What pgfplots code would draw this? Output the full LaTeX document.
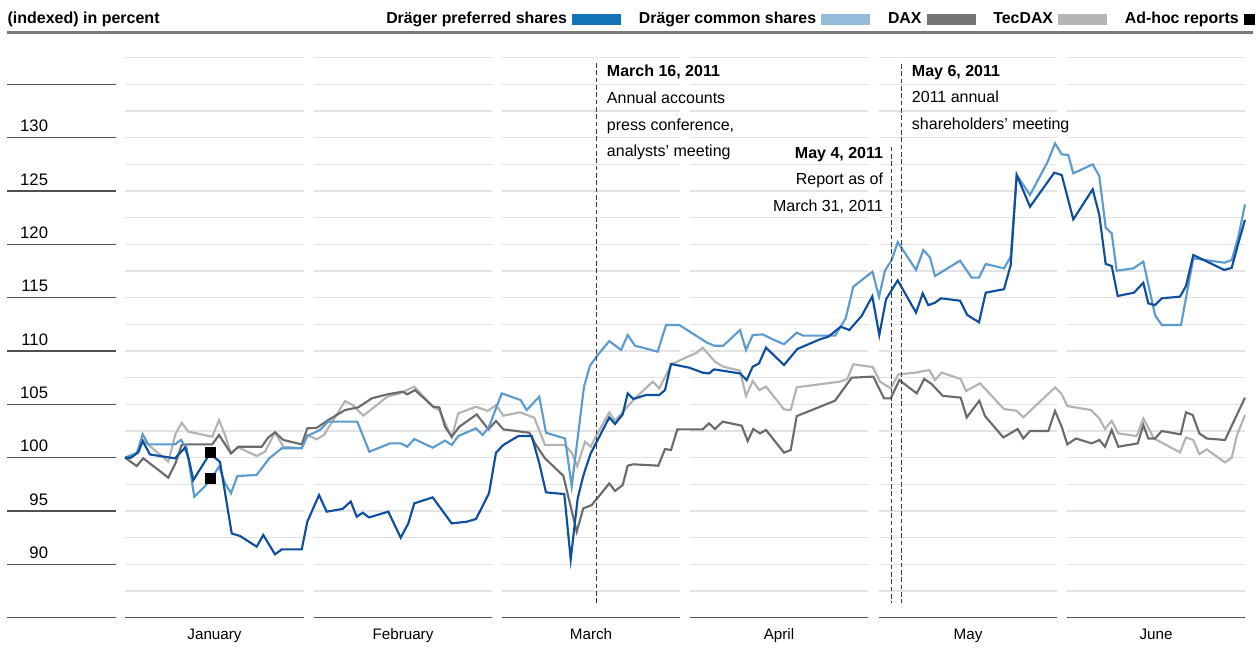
\documentclass[border=0pt]{standalone}
\usepackage{pgfplots}
\pgfplotsset{compat=1.18}
\usepackage{fontspec}
\setmainfont{Liberation Sans}
\definecolor{pref}{HTML}{0D4F9E}
\definecolor{comm}{HTML}{5B9BD0}
\definecolor{dax}{HTML}{6B6B6B}
\definecolor{tec}{HTML}{B3B3B3}
\definecolor{prefsw}{HTML}{1273B6}
\definecolor{commsw}{HTML}{95BBDA}
\definecolor{daxsw}{HTML}{747474}
\definecolor{tecsw}{HTML}{B5B5B5}
\definecolor{gridc}{HTML}{E3E3E3}
\definecolor{axisdark}{HTML}{505050}
\definecolor{headline}{HTML}{7A7A7A}
\definecolor{evt}{HTML}{3A3A3A}
\begin{document}
\begin{tikzpicture}
\begin{axis}[
  scale only axis, width=943.5pt, height=485.25pt,
  xmin=0, xmax=1258, ymin=82.253, ymax=142.909,
  hide axis, clip=false,
  legend style={
    at={(axis cs:1254.5,141.13)}, anchor=east,
    draw=none, fill=none, inner sep=0pt, outer sep=0pt,
    legend columns=-1,
    font=\fontsize{11.9}{14}\selectfont\bfseries,
    nodes={inner sep=0pt},
    /tikz/every odd column/.append style={column sep=4pt},
    /tikz/every even column/.append style={column sep=13.5pt},
  },
  legend plot pos=right,
]
\path (rel axis cs:0,0) rectangle (rel axis cs:1,1);
% legend
\addlegendimage{legend image code/.code={\fill[prefsw] (0pt,-3.75pt) rectangle (36pt,3.75pt);}}
\addlegendentry{Dräger preferred shares}
\addlegendimage{legend image code/.code={\fill[commsw] (0pt,-3.75pt) rectangle (36pt,3.75pt);}}
\addlegendentry{Dräger common shares}
\addlegendimage{legend image code/.code={\fill[daxsw] (0pt,-3.75pt) rectangle (36pt,3.75pt);}}
\addlegendentry{DAX}
\addlegendimage{legend image code/.code={\fill[tecsw] (0pt,-3.75pt) rectangle (36pt,3.75pt);}}
\addlegendentry{TecDAX}
\addlegendimage{legend image code/.code={\fill[black] (0pt,-3.75pt) rectangle (7.5pt,3.75pt);}}
\addlegendentry{Ad-hoc reports}
% header
\node[anchor=base west, inner sep=0pt, font=\fontsize{12}{14}\selectfont\bfseries] at (axis cs:7.3,140.66) {(indexed) in percent};
\draw[headline, line width=2.25pt] (axis cs:7,139.82) -- (axis cs:1253,139.82);
% gridlines
\pgfplotsinvokeforeach{87.5,90,92.5,95,97.5,100,102.5,105,107.5,110,112.5,115,117.5,120,122.5,125,127.5,130,132.5,135,137.5}{
  \draw[gridc, line width=1.1pt] (axis cs:125,#1) -- (axis cs:304,#1) (axis cs:314,#1) -- (axis cs:492,#1) (axis cs:502,#1) -- (axis cs:680,#1) (axis cs:690,#1) -- (axis cs:868,#1) (axis cs:879,#1) -- (axis cs:1057,#1) (axis cs:1067,#1) -- (axis cs:1245,#1);
}
\draw[axisdark, line width=1.1pt] (axis cs:125,85) -- (axis cs:304,85) (axis cs:314,85) -- (axis cs:492,85) (axis cs:502,85) -- (axis cs:680,85) (axis cs:690,85) -- (axis cs:868,85) (axis cs:879,85) -- (axis cs:1057,85) (axis cs:1067,85) -- (axis cs:1245,85);
% left scale
\pgfplotsinvokeforeach{85,90,95,100,105,110,115,120,125,130,135}{
  \draw[axisdark, line width=1.1pt] (axis cs:7,#1) -- (axis cs:116,#1);
}
\pgfplotsinvokeforeach{90,95,100,105,110,115,120,125,130}{
  \node[anchor=base east, inner sep=0pt, yshift=4.5pt, font=\fontsize{12.5}{14}\selectfont] at (axis cs:48.3,#1) {#1};
}
% month labels
\node[anchor=base, inner sep=0pt, font=\fontsize{11.4}{13}\selectfont] at (axis cs:214.5,82.91) {January};
\node[anchor=base, inner sep=0pt, font=\fontsize{11.4}{13}\selectfont] at (axis cs:403,82.91) {February};
\node[anchor=base, inner sep=0pt, font=\fontsize{11.4}{13}\selectfont] at (axis cs:591,82.91) {March};
\node[anchor=base, inner sep=0pt, font=\fontsize{11.4}{13}\selectfont] at (axis cs:779,82.91) {April};
\node[anchor=base, inner sep=0pt, font=\fontsize{11.4}{13}\selectfont] at (axis cs:968,82.91) {May};
\node[anchor=base, inner sep=0pt, font=\fontsize{11.4}{13}\selectfont] at (axis cs:1156,82.91) {June};
% TecDAX
\addplot[tec, line width=1.6pt, forget plot] coordinates {
(125,100) (136.7,100.47) (142.7,101.66) (168.3,99.63) (175.7,102.28) (181.7,103.28) (188.3,102.44) (212.3,101.97) (219,103.53) (225,102.13) (231,100.4) (238.3,100.97) (256.7,100.16) (265,100.56) (275,102.38) (283.3,101.03) (301.7,100.88) (307.3,102.13) (316.7,101.72) (324,102.13) (333,103.5) (345,105.3) (352.7,104.94) (363.3,103.94) (387.3,105.72) (400,106.03) (414.3,106.66) (433.3,104.72) (439.3,104.47) (451.7,101.9) (458.3,104.16) (476,104.78) (487.7,104.38) (496,104.94) (503.3,103.94) (520,104.25) (534.3,103.75) (545,101.19) (565,101.19) (571.7,100.47) (577.3,99.2) (585,101.5) (590.7,101.03) (596.7,102.13) (609.3,104.25) (615,103.47) (634,105.47) (652.7,107.13) (659.3,106.5) (671.7,108.78) (696.7,109.84) (702.7,110.31) (715,109.0) (723.3,108.53) (740,108.16) (746,105.78) (752.7,107.19) (759.3,106.34) (766,106.66) (784,104.53) (790.7,104.47) (796.7,106.6) (840,107.13) (847.3,107.38) (853.3,108.75) (872.7,108.5) (880,107.13) (890.7,106.5) (898.3,107.8) (915,107.97) (929.3,108.22) (935,107.28) (941.7,107.97) (960.7,107.38) (966,106.25) (980,106.97) (1004,104.56) (1016.7,104.4) (1023.3,103.78) (1055,106.59) (1061.7,105.97) (1067.3,104.84) (1091,104.47) (1099.3,103.69) (1105,102.69) (1111.7,103.47) (1118.3,102.28) (1136.7,102.03) (1143.3,103.69) (1154,101.8) (1180,100.5) (1186,101.9) (1193.3,101.66) (1199.3,100.34) (1206.7,100.78) (1225,99.56) (1231.7,100.0) (1236.7,102.03) (1245,104.0)
};
% DAX
\addplot[dax, line width=1.6pt, forget plot] coordinates {
(125,100) (136.7,99.22) (143.3,99.94) (168.3,98.13) (175.7,99.53) (181.7,101.19) (188.3,101.25) (212.3,101.25) (219,102.13) (231,100.4) (238.3,101.03) (261.7,101.03) (268.3,101.9) (275,102.38) (283.3,101.66) (301.7,101.25) (307.3,102.75) (316.7,102.8) (328.3,103.53) (345,104.47) (358.3,104.72) (371.7,105.56) (387.3,105.94) (402.7,106.19) (407.3,105.94) (415,106.34) (433.3,104.78) (439.3,104.72) (445,102.9) (451.7,101.97) (459.3,102.9) (476.7,104.06) (488.3,102.66) (496,103.44) (503.3,102.66) (529.3,102.34) (535,101.34) (545,99.94) (563.3,98.31) (576.7,93.06) (583.3,95.25) (591.7,95.56) (596.7,96.13) (609.3,97.59) (615,96.88) (622.7,97.44) (627.7,99.25) (633.3,99.38) (658.3,99.25) (665,100.81) (671,100.72) (677.3,102.66) (702.7,102.66) (709,103.22) (715,102.69) (722.7,103.38) (741.7,103.0) (747.7,101.56) (753.3,102.69) (760,102.28) (766,102.6) (784,100.47) (790.7,100.72) (796.7,103.9) (835,105.34) (851.7,107.5) (873.3,107.6) (884,105.56) (890.7,105.56) (899.3,107.28) (916.7,106.03) (924.3,107.38) (931.7,106.9) (942.7,105.8) (960.7,105.63) (966.7,103.78) (979.3,105.34) (985,103.9) (1003.3,101.9) (1017.7,102.69) (1023.3,101.8) (1030,102.5) (1048.3,102.5) (1055,104.38) (1061.7,102.9) (1067.3,101.25) (1076,101.8) (1091.7,101.34) (1099.3,101.66) (1105,101.03) (1111.7,102.6) (1118.3,101.03) (1137.7,101.34) (1143.3,103.06) (1148.3,101.8) (1155,101.8) (1161.7,102.5) (1180.7,102.19) (1186,104.25) (1192.7,104.0) (1199.3,102.28) (1206.7,101.8) (1225,101.66) (1245,105.63)
};
% Common shares
\addplot[comm, line width=1.6pt, forget plot] coordinates {
(125,100) (136.7,100.4) (142.7,102.19) (148.3,101.25) (175,101.25) (181,101.66) (186.7,100.9) (194.3,96.34) (209.3,97.75) (219,99.16) (225,97.6) (231,96.66) (237.3,98.28) (256.7,98.38) (269.3,99.94) (281.7,100.88) (301.7,100.88) (307.3,102.03) (320,102.6) (328.3,103.38) (357.3,103.38) (369.3,100.56) (390,101.34) (400.7,101.34) (407.3,101.03) (414.3,101.75) (432.7,100.94) (445,101.6) (451.7,101.19) (458.3,102.03) (476,102.75) (482.7,102.13) (489,102.9) (501.7,106.03) (520.7,105.4) (526.7,104.47) (539.3,105.72) (546,102.34) (565,101.8) (571.7,97.31) (584,106.66) (590,108.63) (596.7,109.5) (609.3,110.94) (621,110.1) (627.7,111.5) (635,110.5) (657.7,109.94) (666,112.44) (679.3,112.44) (696.7,111.4) (706.7,110.8) (714.3,110.5) (723.3,110.5) (740,111.97) (746,110.1) (752.7,111.5) (762.7,111.56) (769.3,111.25) (784,110.63) (796.7,111.72) (803.3,111.44) (835,111.44) (845.7,113.06) (853.3,116.03) (872.5,117.44) (879,115.07) (885,117.55) (891.7,118.53) (897.7,120.22) (916,117.6) (923.3,119.47) (930,118.78) (935,117.03) (960,118.47) (971.7,116.88) (979,116.88) (985.7,118.16) (1004,117.75) (1010.7,118.84) (1016.7,126.5) (1030,124.63) (1047.7,127.75) (1055,129.47) (1061.7,128.44) (1068.3,128.38) (1073.3,126.66) (1092.7,127.5) (1099.3,126.4) (1105.7,121.56) (1111.7,121.03) (1116.7,117.53) (1133.3,117.75) (1143.3,118.38) (1155,113.38) (1161.7,112.44) (1181,112.44) (1193.3,118.69) (1224.3,118.28) (1231.7,118.53) (1238.3,120.7) (1245,123.75)
};
% Preferred shares
\addplot[pref, line width=1.6pt, forget plot] coordinates {
(125,100) (131,100) (138.3,100.5) (142.7,101.56) (150,100.3) (175,99.94) (185,100.94) (189,99.8) (193.3,97.9) (210,100.4) (220,99.6) (231.7,92.9) (240,92.66) (256.7,91.66) (263.3,92.75) (275,90.94) (281.7,91.4) (301.7,91.4) (307.3,94.0) (319,96.5) (326.7,94.94) (342.7,95.2) (350.7,95.9) (356.7,94.47) (362.7,94.84) (369,94.4) (388.3,94.94) (400.7,92.5) (408.3,93.84) (414.3,95.72) (432.7,96.28) (451.7,93.84) (466.7,94.0) (476,94.25) (489,96.66) (496,100.47) (503.3,101.19) (518.3,102.03) (531.7,102.03) (539.3,99.47) (546,96.75) (564.3,96.59) (570.7,90.47) (577.7,96.19) (583.3,98.31) (590.7,100.4) (609.3,103.78) (615,103.16) (622.7,104.06) (627.7,106.03) (633.3,105.5) (646,105.88) (659.3,105.88) (665,106.34) (671,108.78) (689.3,108.44) (702.7,107.97) (709,107.9) (714,108.28) (740,107.9) (746.7,107.28) (752.7,108.53) (759,108.84) (766,110.31) (784,108.69) (797.3,110.19) (820,111.1) (828.3,111.34) (840.7,112.28) (849.3,111.97) (861.7,113.3) (872.3,115.13) (879.3,111.5) (886,114.84) (897.7,116.63) (916,113.6) (922.7,115.4) (928.3,114.3) (935,114.53) (941,114.94) (960,114.72) (967.3,113.38) (979,112.69) (985.7,115.47) (1004,115.8) (1010.7,118.06) (1016.7,126.5) (1030,123.53) (1054.3,126.72) (1061.7,126.5) (1073.3,122.34) (1092.7,125.16) (1099.3,122.75) (1105.7,118.16) (1111.7,117.97) (1117.7,115.16) (1134,115.47) (1143.3,116.4) (1148.3,114.47) (1155,114.3) (1161.7,114.94) (1180,115.1) (1186,116.1) (1193.3,119.0) (1224.3,117.6) (1231.7,117.8) (1238.3,120.1) (1245,122.3)
};
% Ad-hoc reports
\addplot[only marks, mark=square*, mark size=3.75pt, black, forget plot] coordinates {(210.7,100.53) (210.7,98.1)};
% event lines
\draw[evt, line width=1pt, dash pattern=on 3.5pt off 2pt] (axis cs:596.7,137.0) -- (axis cs:596.7,86.38);
\draw[evt, line width=1pt, dash pattern=on 3.5pt off 2pt] (axis cs:891.7,129.16) -- (axis cs:891.7,86.38);
\draw[evt, line width=1pt, dash pattern=on 3.5pt off 2pt] (axis cs:901.7,136.91) -- (axis cs:901.7,86.38);
% annotations
\node[anchor=base west, inner sep=0pt, font=\fontsize{12}{14}\selectfont\bfseries] at (axis cs:606.7,135.78) {March 16, 2011};
\node[anchor=base west, inner sep=0pt, font=\fontsize{12}{14}\selectfont] at (axis cs:606.7,133.25) {Annual accounts};
\node[anchor=base west, inner sep=0pt, font=\fontsize{12}{14}\selectfont] at (axis cs:606.7,130.72) {press conference,};
\node[anchor=base west, inner sep=0pt, font=\fontsize{12}{14}\selectfont] at (axis cs:606.7,128.24) {analysts’ meeting};
\node[anchor=base east, inner sep=0pt, font=\fontsize{12}{14}\selectfont\bfseries] at (axis cs:883.3,128.07) {May 4, 2011};
\node[anchor=base east, inner sep=0pt, font=\fontsize{12}{14}\selectfont] at (axis cs:883.3,125.57) {Report as of};
\node[anchor=base east, inner sep=0pt, font=\fontsize{12}{14}\selectfont] at (axis cs:883.3,123.06) {March 31, 2011};
\node[anchor=base west, inner sep=0pt, font=\fontsize{12}{14}\selectfont\bfseries] at (axis cs:911.7,135.78) {May 6, 2011};
\node[anchor=base west, inner sep=0pt, font=\fontsize{12}{14}\selectfont] at (axis cs:911.7,133.32) {2011 annual};
\node[anchor=base west, inner sep=0pt, font=\fontsize{12}{14}\selectfont] at (axis cs:911.7,130.79) {shareholders’ meeting};
\end{axis}
\end{tikzpicture}
\end{document}
